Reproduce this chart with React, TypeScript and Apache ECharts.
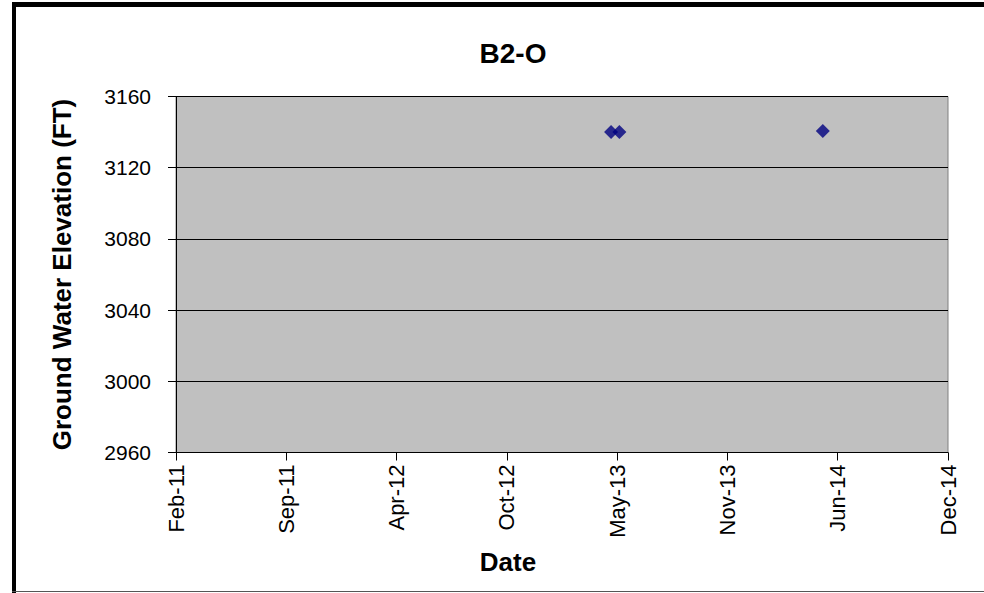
import React, { useEffect, useRef } from "react";
import * as echarts from "echarts";

const seriesName = "B2-O";
const xAxisTitle = "Date";
const yAxisTitle = "Ground Water Elevation (FT)";
const sampleDates = ["2013-04-25", "2013-05-10", "2014-05-14"];
const elevations = [3140.0, 3140.0, 3140.6];
const yMin = 2960;
const yMax = 3160;
const yStep = 40;
// x axis in Excel serial days
const xMin = 40600;
const xMax = 42000;
const xStep = 200;
const monthNames = ["Jan", "Feb", "Mar", "Apr", "May", "Jun", "Jul", "Aug", "Sep", "Oct", "Nov", "Dec"];

const EXCEL_EPOCH = Date.UTC(1899, 11, 30);
const toSerial = (s: string) => {
  const [y, m, d] = s.split("-").map(Number);
  return Math.round((Date.UTC(y, m - 1, d) - EXCEL_EPOCH) / 86400000);
};
const serialLabel = (v: number) => {
  const dt = new Date(EXCEL_EPOCH + v * 86400000);
  return monthNames[dt.getUTCMonth()] + "-" + String(dt.getUTCFullYear() % 100).padStart(2, "0");
};

export default function App() {
  const ref = useRef<HTMLDivElement>(null);
  useEffect(() => {
    if (!ref.current) return;
    const chart = echarts.init(ref.current, undefined, { renderer: "svg" });
    const font = "Liberation Sans, Arial, sans-serif";
    chart.setOption({
      animation: false,
      backgroundColor: "#ffffff",
      title: {
        text: seriesName,
        left: 508,
        top: 34,
        textAlign: "center",
        textStyle: { fontFamily: font, fontSize: 28, fontWeight: "bold", color: "#000" },
      },
      grid: { left: 176, top: 96.5, width: 772, height: 356, containLabel: false,
        show: true, backgroundColor: "#c0c0c0", borderColor: "#808080", borderWidth: 1 },
      xAxis: {
        type: "value",
        min: xMin,
        max: xMax,
        interval: xStep,
        axisLine: { show: true, lineStyle: { color: "#000", width: 1 } },
        axisTick: { show: true, length: 8, lineStyle: { color: "#000" } },
        splitLine: { show: false },
        axisLabel: {
          rotate: 90,
          margin: 12,
          fontFamily: font,
          fontSize: 22,
          color: "#000",
          formatter: (v: number) => serialLabel(v),
        },
      },
      yAxis: {
        type: "value",
        min: yMin,
        max: yMax,
        interval: yStep,
        name: yAxisTitle,
        nameLocation: "middle",
        nameGap: 101,
        nameTextStyle: { fontFamily: font, fontSize: 26, fontWeight: "bold", color: "#000" },
        axisLine: { show: true, lineStyle: { color: "#000", width: 1 } },
        axisTick: { show: true, length: 8, lineStyle: { color: "#000" } },
        splitLine: { show: true, lineStyle: { color: "#000", width: 1 } },
        axisLabel: { fontFamily: font, fontSize: 21, color: "#000", margin: 25, formatter: (v: number) => String(v) },
      },
      graphic: [
        { type: "rect", shape: { x: 12, y: 2, width: 4, height: 591 }, style: { fill: "#000" } },
        { type: "rect", shape: { x: 12, y: 2, width: 972, height: 5 }, style: { fill: "#000" } },
        { type: "rect", shape: { x: 12, y: 591, width: 972, height: 1 }, style: { fill: "#555" } },
        {
          type: "text",
          x: 508,
          y: 562,
          style: {
            text: xAxisTitle,
            fontFamily: font,
            fontSize: 26,
            fontWeight: "bold",
            fill: "#000",
            textAlign: "center",
            textVerticalAlign: "middle",
          },
        },
      ],
      series: [
        {
          name: seriesName,
          type: "scatter",
          symbol: "diamond",
          symbolSize: 14,
          itemStyle: { color: "#000080" },
          data: sampleDates.map((d, i) => [toSerial(d), elevations[i]]),
        },
      ],
    });
    return () => chart.dispose();
  }, []);
  return (
    <div
      ref={ref}
      style={{ position: "fixed", left: 0, top: 0, width: 984, height: 593 }}
    />
  );
}
